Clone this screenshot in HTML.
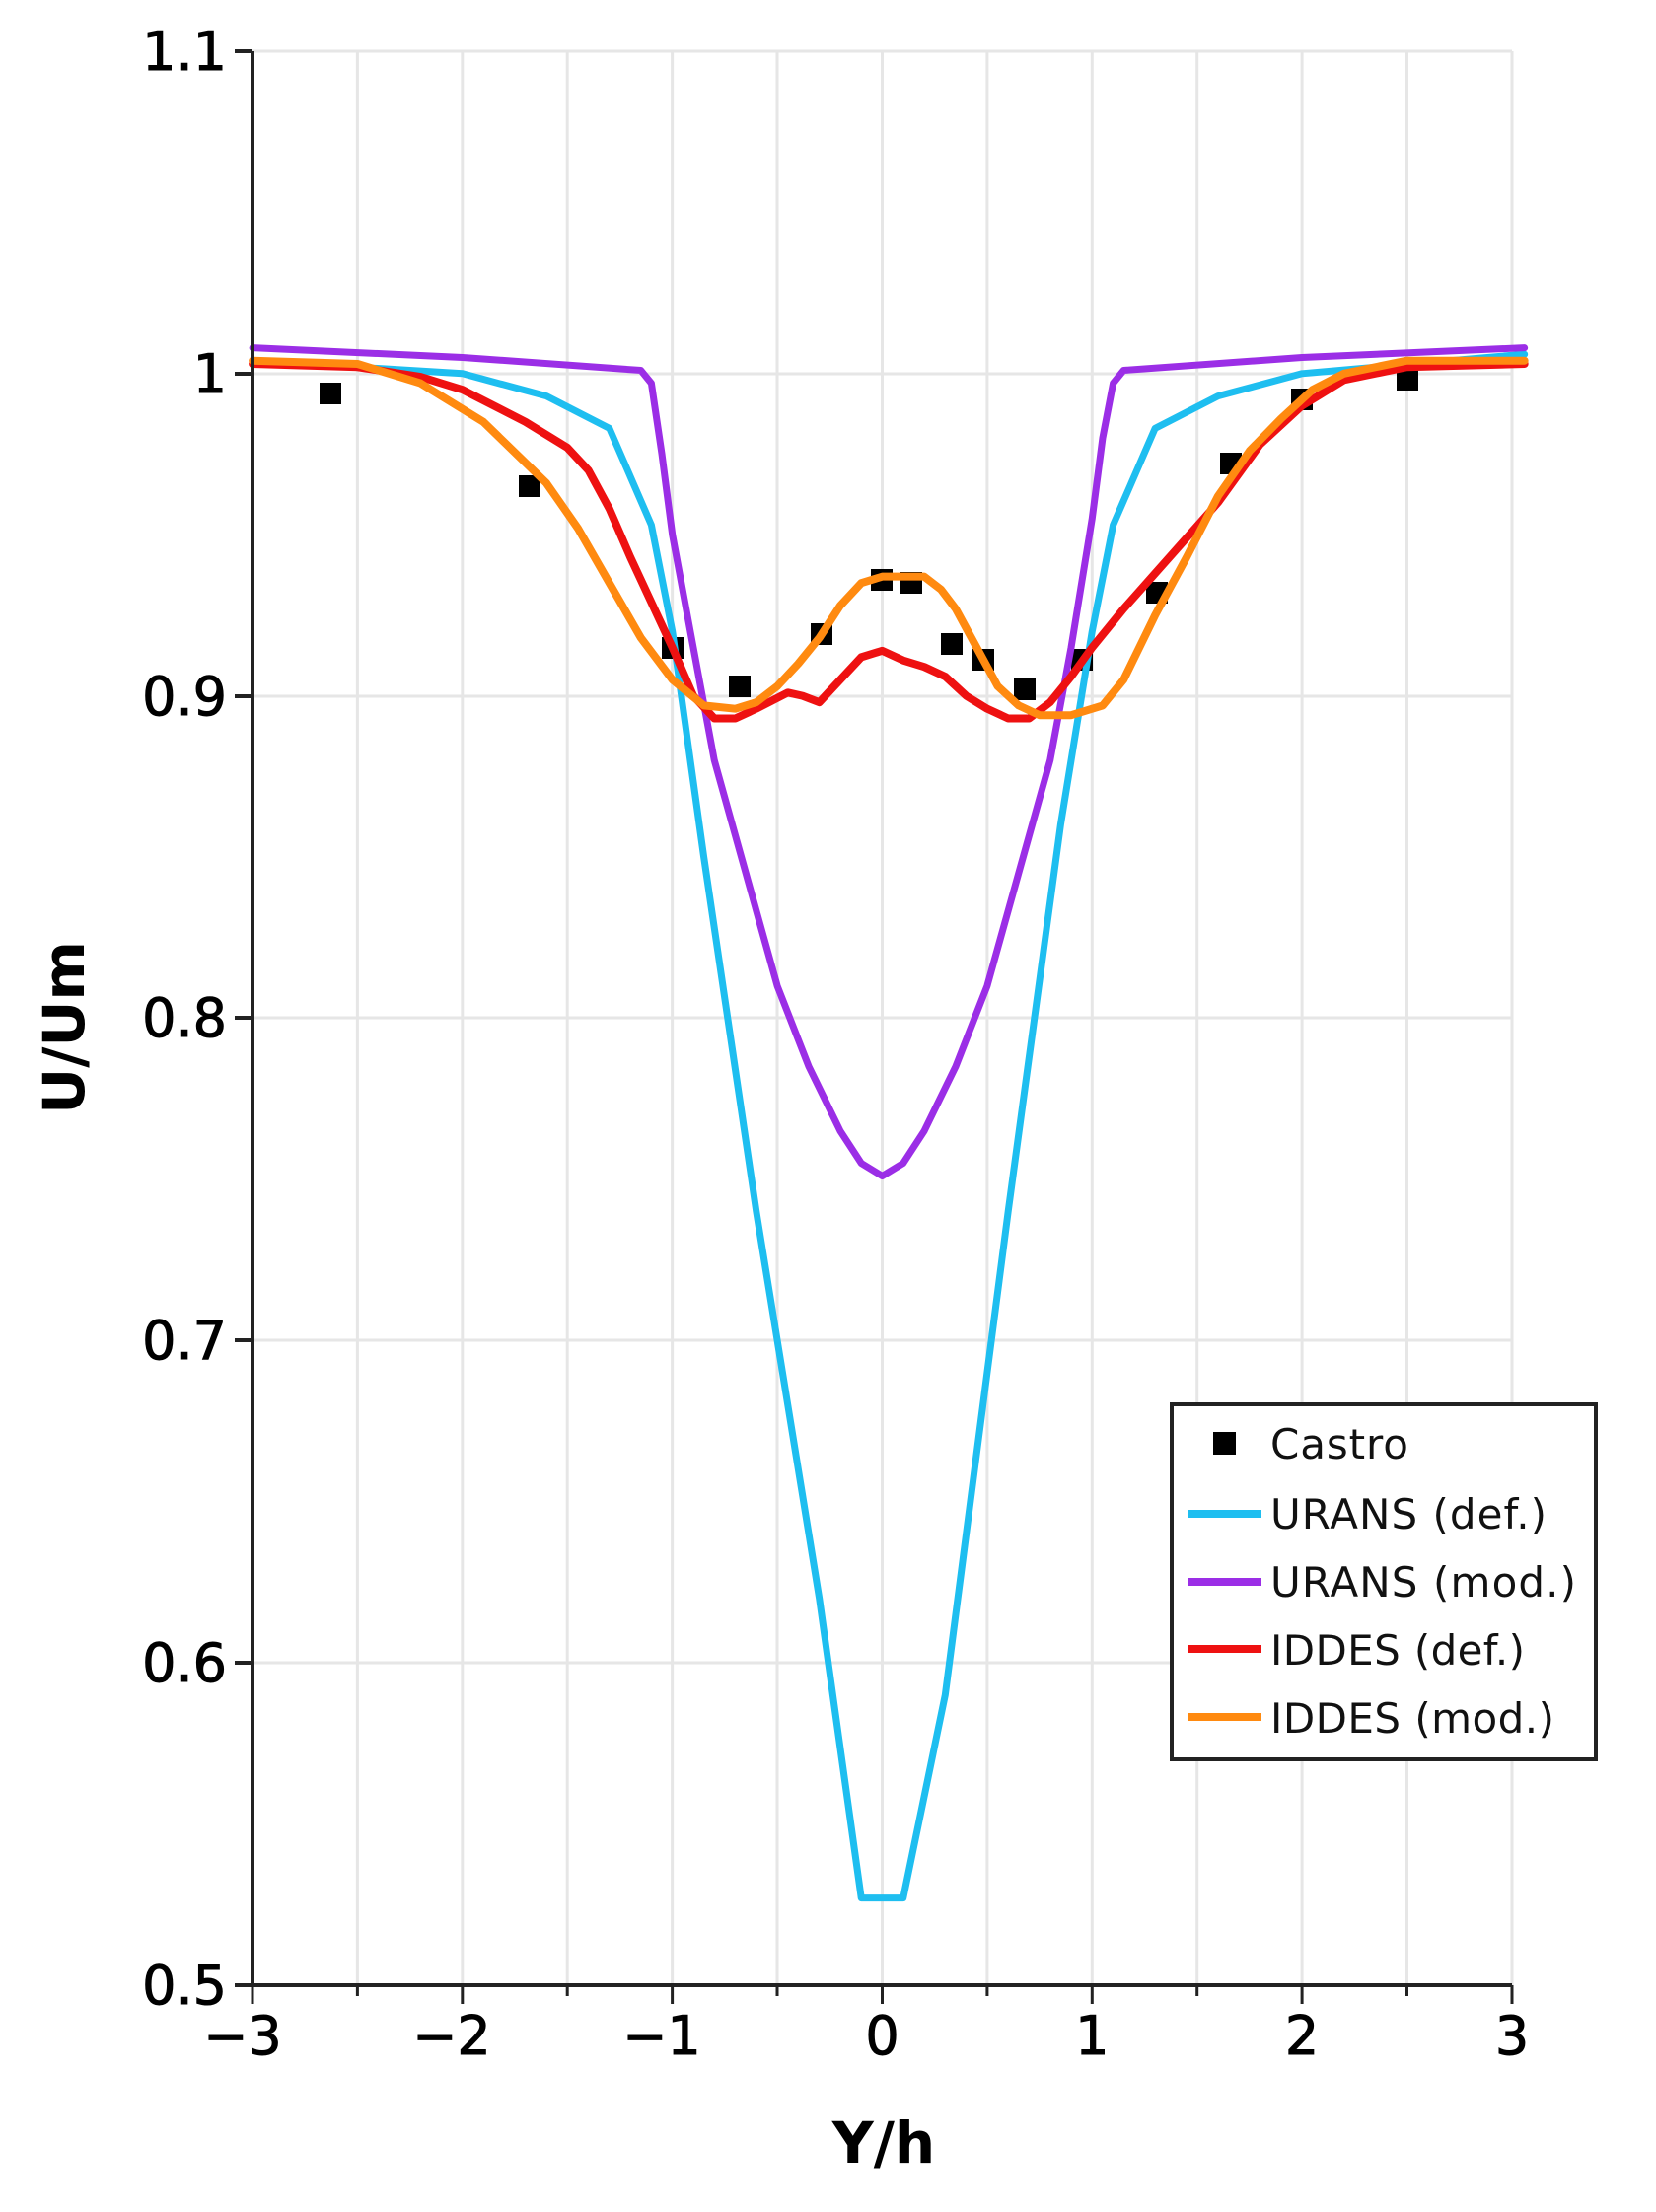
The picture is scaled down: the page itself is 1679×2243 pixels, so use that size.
<!DOCTYPE html>
<html><head><meta charset="utf-8"><style>
html,body{margin:0;padding:0;background:#fff;}
svg{display:block;}
text{font-family:"DejaVu Sans","Liberation Sans",sans-serif;}
</style></head><body>
<svg width="1679" height="2243" viewBox="0 0 1679 2243" xmlns="http://www.w3.org/2000/svg">
<rect width="1679" height="2243" fill="#fff"/>
<g stroke="#e6e6e6" stroke-width="3">
<line x1="256" y1="52" x2="1533" y2="52"/>
<line x1="256" y1="379" x2="1533" y2="379"/>
<line x1="256" y1="706" x2="1533" y2="706"/>
<line x1="256" y1="1032" x2="1533" y2="1032"/>
<line x1="256" y1="1359" x2="1533" y2="1359"/>
<line x1="256" y1="1686" x2="1533" y2="1686"/>
<line x1="362.4" y1="52" x2="362.4" y2="2013"/>
<line x1="468.8" y1="52" x2="468.8" y2="2013"/>
<line x1="575.2" y1="52" x2="575.2" y2="2013"/>
<line x1="681.6" y1="52" x2="681.6" y2="2013"/>
<line x1="788" y1="52" x2="788" y2="2013"/>
<line x1="894.5" y1="52" x2="894.5" y2="2013"/>
<line x1="1000.9" y1="52" x2="1000.9" y2="2013"/>
<line x1="1107.3" y1="52" x2="1107.3" y2="2013"/>
<line x1="1213.7" y1="52" x2="1213.7" y2="2013"/>
<line x1="1320.1" y1="52" x2="1320.1" y2="2013"/>
<line x1="1426.5" y1="52" x2="1426.5" y2="2013"/>
<line x1="1533" y1="52" x2="1533" y2="2013"/>
</g>
<g fill="#000">
<rect x="324" y="388" width="22" height="22"/>
<rect x="526" y="482" width="22" height="22"/>
<rect x="671" y="646" width="22" height="22"/>
<rect x="739" y="685" width="22" height="22"/>
<rect x="822" y="632" width="22" height="22"/>
<rect x="883" y="577" width="22" height="22"/>
<rect x="913" y="580" width="22" height="22"/>
<rect x="954" y="642" width="22" height="22"/>
<rect x="986" y="658" width="22" height="22"/>
<rect x="1028" y="688" width="22" height="22"/>
<rect x="1086" y="658" width="22" height="22"/>
<rect x="1162" y="590" width="22" height="22"/>
<rect x="1237" y="459" width="22" height="22"/>
<rect x="1309" y="394" width="22" height="22"/>
<rect x="1416" y="374" width="22" height="22"/>
</g>
<g transform="matrix(212.8 0 0 -3268 894.5 3646.8)" fill="none" stroke-linejoin="round" stroke-linecap="round">
<polyline vector-effect="non-scaling-stroke" stroke="#1ebef0" stroke-width="7" points="-3,1.004 -2,1.0 -1.6,0.993 -1.3,0.983 -1.1,0.953 -1.0,0.92 -0.85,0.85 -0.6,0.74 -0.3,0.62 -0.1,0.527 0.1,0.527 0.3,0.59 0.6,0.74 0.85,0.86 1.0,0.92 1.1,0.953 1.3,0.983 1.6,0.993 2,1.0 3.06,1.006"/>
<polyline vector-effect="non-scaling-stroke" stroke="#9b2ee6" stroke-width="7" points="-3,1.008 -2,1.005 -1.15,1.001 -1.1,0.997 -1.05,0.975 -1.0,0.95 -0.9,0.915 -0.8,0.88 -0.65,0.845 -0.5,0.81 -0.35,0.785 -0.2,0.765 -0.1,0.755 0,0.751 0.1,0.755 0.2,0.765 0.35,0.785 0.5,0.81 0.65,0.845 0.8,0.88 0.9,0.915 1.0,0.955 1.05,0.98 1.1,0.997 1.15,1.001 2,1.005 3.06,1.008"/>
<polyline vector-effect="non-scaling-stroke" stroke="#ee1111" stroke-width="8" points="-3,1.003 -2.5,1.002 -2.2,0.999 -2,0.995 -1.7,0.985 -1.5,0.977 -1.4,0.97 -1.3,0.958 -1.2,0.943 -1.0,0.915 -0.9,0.9 -0.8,0.893 -0.7,0.893 -0.6,0.896 -0.45,0.901 -0.38,0.9 -0.3,0.898 -0.2,0.905 -0.1,0.912 0,0.914 0.1,0.911 0.2,0.909 0.3,0.906 0.4,0.9 0.5,0.896 0.6,0.893 0.7,0.893 0.8,0.898 0.9,0.906 1.0,0.915 1.15,0.927 1.3,0.938 1.6,0.96 1.8,0.978 2.0,0.99 2.2,0.998 2.5,1.002 3.06,1.003"/>
<polyline vector-effect="non-scaling-stroke" stroke="#ff8a10" stroke-width="8" points="-3,1.004 -2.5,1.003 -2.2,0.997 -1.9,0.985 -1.6,0.966 -1.45,0.952 -1.3,0.935 -1.15,0.918 -1.0,0.905 -0.85,0.897 -0.7,0.896 -0.6,0.898 -0.5,0.903 -0.4,0.91 -0.3,0.918 -0.2,0.928 -0.1,0.935 0,0.937 0.1,0.937 0.2,0.937 0.28,0.933 0.35,0.927 0.45,0.915 0.55,0.903 0.65,0.897 0.75,0.894 0.9,0.894 1.05,0.897 1.15,0.905 1.3,0.925 1.45,0.943 1.6,0.962 1.75,0.976 1.9,0.986 2.05,0.995 2.2,1.0 2.5,1.004 3.06,1.004"/>
</g>
<g stroke="#222" stroke-width="4">
<line x1="256" y1="52" x2="256" y2="2015"/>
<line x1="254" y1="2013" x2="1533" y2="2013"/>
<line x1="238" y1="52" x2="256" y2="52"/>
<line x1="238" y1="379" x2="256" y2="379"/>
<line x1="238" y1="706" x2="256" y2="706"/>
<line x1="238" y1="1032" x2="256" y2="1032"/>
<line x1="238" y1="1359" x2="256" y2="1359"/>
<line x1="238" y1="1686" x2="256" y2="1686"/>
<line x1="238" y1="2013" x2="256" y2="2013"/>
</g>
<g stroke="#222" stroke-width="3">
<line x1="256" y1="2013" x2="256" y2="2032"/>
<line x1="362.4" y1="2013" x2="362.4" y2="2024"/>
<line x1="468.8" y1="2013" x2="468.8" y2="2032"/>
<line x1="575.2" y1="2013" x2="575.2" y2="2024"/>
<line x1="681.6" y1="2013" x2="681.6" y2="2032"/>
<line x1="788" y1="2013" x2="788" y2="2024"/>
<line x1="894.5" y1="2013" x2="894.5" y2="2032"/>
<line x1="1000.9" y1="2013" x2="1000.9" y2="2024"/>
<line x1="1107.3" y1="2013" x2="1107.3" y2="2032"/>
<line x1="1213.7" y1="2013" x2="1213.7" y2="2024"/>
<line x1="1320.1" y1="2013" x2="1320.1" y2="2032"/>
<line x1="1426.5" y1="2013" x2="1426.5" y2="2024"/>
<line x1="1533" y1="2013" x2="1533" y2="2032"/>
</g>
<g font-size="54" fill="#000" text-anchor="end" stroke="#000" stroke-width="1">
<text x="230" y="71">1.1</text>
<text x="230" y="398">1</text>
<text x="230" y="725">0.9</text>
<text x="230" y="1051">0.8</text>
<text x="230" y="1378">0.7</text>
<text x="230" y="1705">0.6</text>
<text x="230" y="2032">0.5</text>
</g>
<g font-size="54" fill="#000" text-anchor="middle" stroke="#000" stroke-width="1">
<text x="246" y="2083">−3</text>
<text x="458" y="2083">−2</text>
<text x="671" y="2083">−1</text>
<text x="894.5" y="2083">0</text>
<text x="1107.3" y="2083">1</text>
<text x="1320.1" y="2083">2</text>
<text x="1533" y="2083">3</text>
</g>
<g font-weight="bold" fill="#000" text-anchor="middle">
<text x="896" y="2193" font-size="58">Y/h</text>
<text transform="translate(85,1042) rotate(-90)" font-size="58">U/Um</text>
</g>
<rect x="1188" y="1424" width="430" height="360" fill="#fff" stroke="#222" stroke-width="4"/>
<rect x="1230" y="1452" width="23" height="23" fill="#000"/>
<g stroke-width="8">
<line x1="1205" y1="1535" x2="1279" y2="1535" stroke="#1ebef0"/>
<line x1="1205" y1="1604" x2="1279" y2="1604" stroke="#9b2ee6"/>
<line x1="1205" y1="1672" x2="1279" y2="1672" stroke="#ee1111"/>
<line x1="1205" y1="1741" x2="1279" y2="1741" stroke="#ff8a10"/>
</g>
<g font-size="42" fill="#111">
<text x="1288" y="1479" textLength="140">Castro</text>
<text x="1288" y="1550" textLength="280">URANS (def.)</text>
<text x="1288" y="1619" textLength="310">URANS (mod.)</text>
<text x="1288" y="1688" textLength="258">IDDES (def.)</text>
<text x="1288" y="1757" textLength="288">IDDES (mod.)</text>
</g>
</svg>
</body></html>
